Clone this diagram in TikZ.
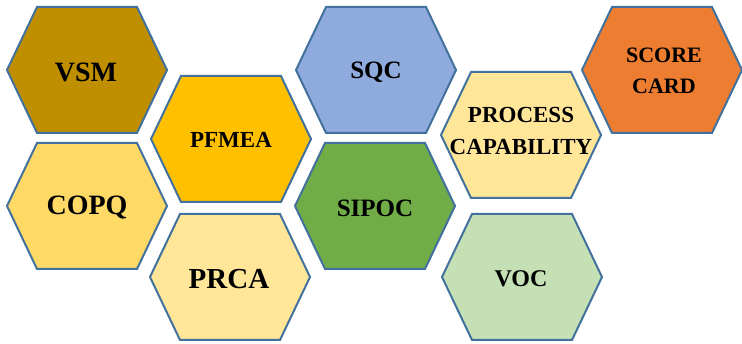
\documentclass[tikz,border=0pt]{standalone}
\usepackage{fontspec}
\setmainfont{Liberation Serif}
\definecolor{edge}{HTML}{41719C}
\definecolor{cVSM}{HTML}{BF8F00}
\definecolor{cPF}{HTML}{FFC000}
\definecolor{cCOPQ}{HTML}{FFD966}
\definecolor{cPRCA}{HTML}{FFE699}
\definecolor{cSQC}{HTML}{8FAADC}
\definecolor{cSIPOC}{HTML}{70AD47}
\definecolor{cPC}{HTML}{FFE699}
\definecolor{cVOC}{HTML}{C5E0B4}
\definecolor{cSC}{HTML}{ED7D31}
\newcommand\hexcell[3]{%
  \filldraw[hexcellstyle,fill=#3] (#1-80,#2) -- (#1-50,#2-63) -- (#1+50,#2-63) -- (#1+80,#2) -- (#1+50,#2+63) -- (#1-50,#2+63) -- cycle;}
\tikzset{
  hexcellstyle/.style={draw=edge,line width=2pt,line join=miter},
  lbl/.style={font=\bfseries, text=black, align=center, inner sep=0pt},
}
\begin{document}
\begin{tikzpicture}[x=1pt,y=-1pt]
\useasboundingbox (0,0) rectangle (742,344);
\hexcell{87}{70}{cVSM}
\hexcell{87}{206}{cCOPQ}
\hexcell{231}{139}{cPF}
\hexcell{230}{277}{cPRCA}
\hexcell{376}{70}{cSQC}
\hexcell{375}{206}{cSIPOC}
\hexcell{521}{135}{cPC}
\hexcell{522}{277}{cVOC}
\hexcell{662}{70}{cSC}
\node[lbl,font=\fontsize{28}{30}\selectfont\bfseries] (vsm) at (86,72) {VSM};
\node[lbl,font=\fontsize{28}{30}\selectfont\bfseries] (copq) at (87,208) {COPQ};
\node[lbl,font=\fontsize{23}{25}\selectfont\bfseries] (pfmea) at (231,140) {PFMEA};
\node[lbl,font=\fontsize{29}{30}\selectfont\bfseries] (prca) at (229,279) {PRCA};
\node[lbl,font=\fontsize{25}{27}\selectfont\bfseries] (sqc) at (376,72) {SQC};
\node[lbl,font=\fontsize{25}{27}\selectfont\bfseries] (sipoc) at (375,208) {SIPOC};
\node[lbl,font=\fontsize{23}{32}\selectfont\bfseries] (pc) at (521,131) {PROCESS\\CAPABILITY};
\node[lbl,font=\fontsize{24}{26}\selectfont\bfseries] (voc) at (521,279) {VOC};
\node[lbl,font=\fontsize{22}{31}\selectfont\bfseries] (sc) at (664,71) {SCORE\\CARD};
\end{tikzpicture}
\end{document}
